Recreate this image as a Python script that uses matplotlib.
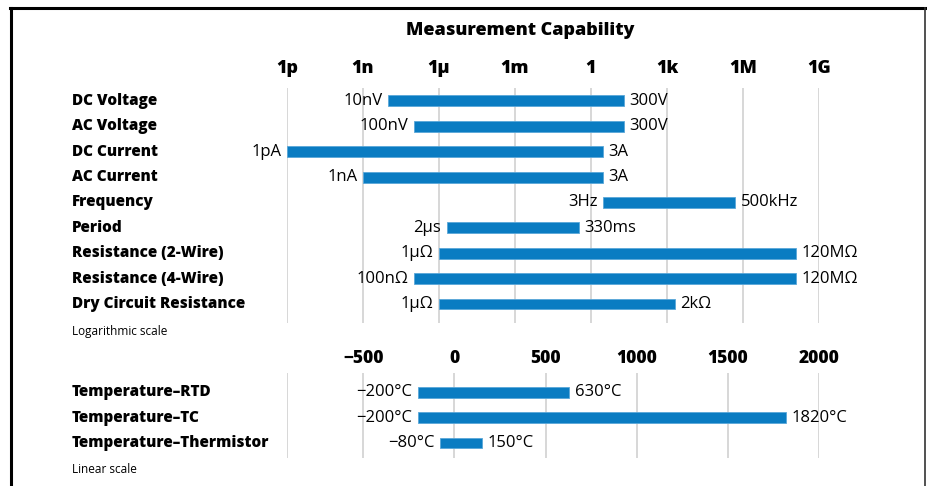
import matplotlib
matplotlib.use("Agg")
import matplotlib.pyplot as plt
import matplotlib.transforms as mtransforms
import numpy as np

plt.rcParams['font.family'] = ['Open Sans', 'DejaVu Sans']

# ---------------- data ----------------
log_categories = ["DC Voltage", "AC Voltage", "DC Current", "AC Current", "Frequency",
                  "Period", "Resistance (2-Wire)", "Resistance (4-Wire)", "Dry Circuit Resistance"]
log_low = [1e-8, 1e-7, 1e-12, 1e-9, 3, 2e-6, 1e-6, 1e-7, 1e-6]
log_high = [20, 20, 3, 3, 5e5, 0.33, 1.2e8, 1.2e8, 2e3]   # as drawn in the picture
log_low_labels = ["10nV", "100nV", "1pA", "1nA", "3Hz", "2μs", "1μΩ", "100nΩ", "1μΩ"]
log_high_labels = ["300V", "300V", "3A", "3A", "500kHz", "330ms", "120MΩ", "120MΩ", "2kΩ"]
log_ticks = [1e-12, 1e-9, 1e-6, 1e-3, 1, 1e3, 1e6, 1e9]
log_tick_labels = ["1p", "1n", "1μ", "1m", "1", "1k", "1M", "1G"]

lin_categories = ["Temperature\u2013RTD", "Temperature\u2013TC", "Temperature\u2013Thermistor"]
lin_low = [-200, -200, -80]
lin_high = [630, 1820, 150]
lin_low_labels = ["\u2212200°C", "\u2212200°C", "\u221280°C"]
lin_high_labels = ["630°C", "1820°C", "150°C"]
lin_ticks = [-500, 0, 500, 1000, 1500, 2000]
lin_tick_labels = ["\u2212500", "0", "500", "1000", "1500", "2000"]

BLUE = "#0a7cc2"
GRID = "#d4d4d4"

W, H = 927, 486
fig = plt.figure(figsize=(W / 100, H / 100), dpi=100)

def px_axes(x0, x1, y0, y1):
    return fig.add_axes([x0 / W, 1 - y1 / H, (x1 - x0) / W, (y1 - y0) / H])

# frame lines
fig.add_artist(plt.Line2D([11 / W, 11 / W], [0, 1 - 8 / H], color="black", lw=2.2))
fig.add_artist(plt.Line2D([10 / W, 1], [1 - 8 / H, 1 - 8 / H], color="black", lw=2.2))
fig.add_artist(plt.Line2D([925 / W, 925 / W], [0, 1 - 8 / H], color="#333333", lw=1.2))

fig.text(520 / W, 1 - 30 / H, "Measurement Capability", ha="center", va="center",
         fontsize=13, fontweight="heavy")

bar_h = 0.43
VAL_FS = 12
CAT_FS = 11

def style_axes(ax, ticks, labels, pad, fs):
    for s in ax.spines.values():
        s.set_visible(False)
    ax.set_xticks(ticks)
    ax.set_xticklabels(labels)
    ax.minorticks_off()
    ax.tick_params(axis="x", top=True, labeltop=True, bottom=False, labelbottom=False,
                   length=0, pad=pad, labelsize=fs)
    for t in ax.get_xticklabels():
        t.set_fontweight("heavy")
    ax.set_yticks([])
    ax.grid(axis="x", color=GRID, lw=1.3)
    ax.set_axisbelow(True)
    ax.patch.set_alpha(0)

def draw_rows(ax, cats, lo, hi, lo_lab, hi_lab):
    y = np.arange(len(cats))
    ax.barh(y, hi - lo, left=lo, height=bar_h, color=BLUE, edgecolor="#5aa7d8", lw=0.6)
    tr = mtransforms.blended_transform_factory(fig.transFigure, ax.transData)
    for i in range(len(cats)):
        ax.annotate(lo_lab[i], (lo[i], y[i]), xytext=(-4, 0), textcoords="offset points",
                    ha="right", va="center", fontsize=VAL_FS)
        ax.annotate(hi_lab[i], (hi[i], y[i]), xytext=(4, 0), textcoords="offset points",
                    ha="left", va="center", fontsize=VAL_FS)
        ax.text(72 / W, y[i], cats[i], transform=tr, ha="left", va="center",
                fontsize=CAT_FS, fontweight="heavy")

# ---------------- log panel ----------------
ax1 = px_axes(287, 819, 88, 323)
ax1.set_xscale("log")
ax1.set_xlim(1e-12, 1e9)
ax1.set_ylim(8.75, -0.51)
style_axes(ax1, log_ticks, log_tick_labels, 8, 13)
draw_rows(ax1, log_categories, np.array(log_low), np.array(log_high),
          log_low_labels, log_high_labels)
fig.text(72 / W, 1 - 332 / H, "Logarithmic scale", ha="left", va="center", fontsize=8.5)

# ---------------- linear panel ----------------
ax2 = px_axes(287, 819, 373, 458)
ax2.set_xlim(-918, 2000)
ax2.set_ylim(2.59, -0.75)
style_axes(ax2, lin_ticks, lin_tick_labels, 4, 12.5)
ax2.axvline(-918, color=GRID, lw=1.3, zorder=0.5)
draw_rows(ax2, lin_categories, np.array(lin_low), np.array(lin_high),
          lin_low_labels, lin_high_labels)
fig.text(72 / W, 1 - 469 / H, "Linear scale", ha="left", va="center", fontsize=8.5)

fig.savefig("out.png", dpi=100, facecolor="white")
